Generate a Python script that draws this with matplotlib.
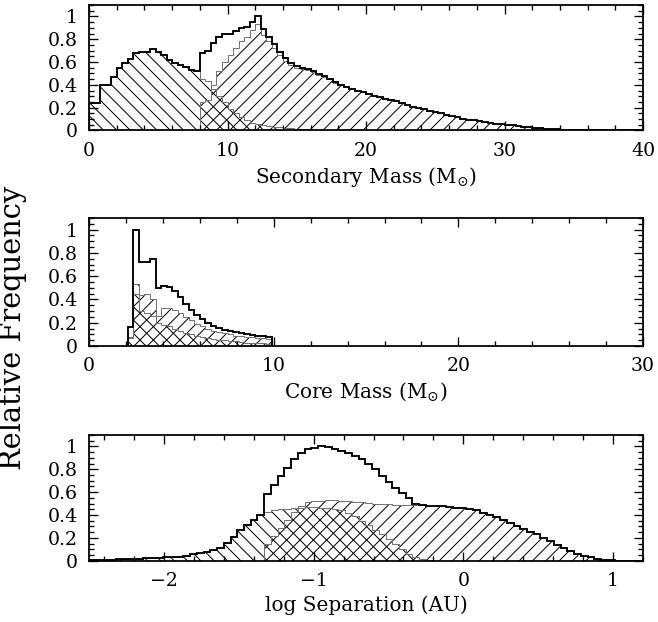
import matplotlib
matplotlib.use('Agg')
import matplotlib.pyplot as plt
import numpy as np
from matplotlib.ticker import MultipleLocator, FixedLocator, FixedFormatter

plt.rcParams['font.family'] = 'DejaVu Serif'
plt.rcParams['mathtext.fontset'] = 'dejavuserif'
plt.rcParams['hatch.linewidth'] = 0.9

# ---- panel 1: secondary mass, 0.4 Msun bins from 0 to 40
sec_edges = np.linspace(0, 40, 101)
sec_total = [0.24, 0.24, 0.40, 0.40, 0.47, 0.55, 0.59, 0.63, 0.68, 0.69,
             0.69, 0.715, 0.69, 0.665, 0.62, 0.59, 0.57, 0.56, 0.53, 0.52,
             0.68, 0.70, 0.77, 0.82, 0.85, 0.85, 0.87, 0.90, 0.91, 0.95,
             1.0, 0.89, 0.82, 0.755, 0.69, 0.635, 0.59, 0.565, 0.552, 0.54,
             0.518, 0.496, 0.475, 0.454, 0.423, 0.40, 0.38, 0.36, 0.345, 0.335,
             0.32, 0.30, 0.29, 0.28, 0.27, 0.255, 0.24, 0.225, 0.21, 0.20,
             0.185, 0.17, 0.16, 0.15, 0.135, 0.125, 0.115, 0.105, 0.095, 0.09,
             0.08, 0.075, 0.065, 0.06, 0.055, 0.05, 0.045, 0.04, 0.035, 0.03,
             0.025, 0.02, 0.017, 0.014, 0.01, 0.008, 0.005, 0.004, 0.002, 0.001,
             0, 0, 0, 0, 0, 0, 0, 0, 0, 0]
sec_low = [0.24, 0.24, 0.40, 0.40, 0.47, 0.55, 0.59, 0.63, 0.68, 0.69,
           0.69, 0.715, 0.69, 0.665, 0.62, 0.59, 0.57, 0.56, 0.53, 0.52,
           0.45, 0.43, 0.36, 0.30, 0.25, 0.19, 0.15, 0.12, 0.09, 0.07,
           0.06, 0.05, 0.04, 0.035, 0.03, 0.025, 0.02, 0.015, 0.012, 0.01,
           0.008, 0.006, 0.005, 0.004, 0.003] + [0] * 55
sec_high = [0] * 20 + [
            0.25, 0.27, 0.40, 0.52, 0.60, 0.66, 0.72, 0.78, 0.82, 0.88,
            0.93, 0.84, 0.78, 0.72, 0.66, 0.61, 0.57, 0.55, 0.54, 0.53,
            0.51, 0.49, 0.47, 0.45, 0.42, 0.40, 0.38, 0.36, 0.345, 0.335,
            0.32, 0.30, 0.29, 0.28, 0.27, 0.255, 0.24, 0.225, 0.21, 0.20,
            0.185, 0.17, 0.16, 0.15, 0.135, 0.125, 0.115, 0.105, 0.095, 0.09,
            0.08, 0.075, 0.065, 0.06, 0.055, 0.05, 0.045, 0.04, 0.035, 0.03,
            0.025, 0.02, 0.017, 0.014, 0.01, 0.008, 0.005, 0.004, 0.002, 0.001,
            0, 0, 0, 0, 0, 0, 0, 0, 0, 0]

# ---- panel 2: core mass, 0.3 Msun bins
core_edges = np.linspace(2.1, 9.9, 27)
core_total = [0.16, 1.0, 0.72, 0.72, 0.745, 0.50, 0.52, 0.51, 0.47, 0.42,
              0.36, 0.31, 0.27, 0.23, 0.20, 0.17, 0.155, 0.14, 0.13, 0.12,
              0.11, 0.10, 0.095, 0.09, 0.085, 0.08]
core_low = [0.08, 0.53, 0.30, 0.28, 0.26, 0.20, 0.18, 0.17, 0.15, 0.13,
            0.11, 0.10, 0.09, 0.08, 0.07, 0.06, 0.055, 0.05, 0.045, 0.04,
            0.035, 0.03, 0.03, 0.025, 0.025, 0.02]
core_high = [0.07, 0.45, 0.44, 0.445, 0.40, 0.26, 0.33, 0.33, 0.31, 0.28,
             0.25, 0.22, 0.19, 0.17, 0.15, 0.13, 0.12, 0.11, 0.10, 0.09,
             0.085, 0.08, 0.075, 0.07, 0.065, 0.06]

# ---- panel 3: log separation, 0.045 dex bins
sep_edges = np.linspace(-2.5, 1.19, 83)
sep_total = [0.005, 0.007, 0.008, 0.01, 0.012, 0.014, 0.016, 0.018, 0.02, 0.022,
             0.025, 0.028, 0.032, 0.036, 0.045, 0.055, 0.065, 0.08, 0.095, 0.11,
             0.155, 0.21, 0.265, 0.31, 0.36, 0.40, 0.58, 0.66, 0.74, 0.81,
             0.89, 0.945, 0.98, 0.99, 1.0, 0.995, 0.98, 0.96, 0.94, 0.92,
             0.89, 0.85, 0.80, 0.74, 0.69, 0.64, 0.59, 0.545, 0.50, 0.49,
             0.48, 0.48, 0.475, 0.47, 0.465, 0.46, 0.45, 0.44, 0.42, 0.40,
             0.38, 0.355, 0.33, 0.305, 0.28, 0.255, 0.23, 0.20, 0.17, 0.14,
             0.11, 0.085, 0.06, 0.045, 0.03, 0.018, 0.008, 0.003, 0, 0,
             0, 0]
sep_low = [0.005, 0.007, 0.008, 0.01, 0.012, 0.014, 0.016, 0.018, 0.02, 0.022,
           0.025, 0.028, 0.032, 0.036, 0.045, 0.055, 0.065, 0.08, 0.095, 0.11,
           0.155, 0.21, 0.265, 0.31, 0.36, 0.40, 0.43, 0.44, 0.45, 0.455,
           0.46, 0.465, 0.47, 0.47, 0.465, 0.46, 0.45, 0.44, 0.42, 0.39,
           0.35, 0.31, 0.27, 0.23, 0.19, 0.145, 0.10, 0.06, 0.03, 0.012,
           0.004] + [0] * 31
sep_high = [0] * 26 + [
            0.15, 0.22, 0.29, 0.36,
            0.43, 0.48, 0.51, 0.52, 0.52, 0.53, 0.53, 0.52, 0.52, 0.515,
            0.51, 0.505, 0.50, 0.50, 0.495, 0.49, 0.49, 0.49, 0.49, 0.485,
            0.48, 0.48, 0.475, 0.47, 0.465, 0.46, 0.45, 0.44, 0.42, 0.40,
            0.38, 0.355, 0.33, 0.305, 0.28, 0.255, 0.23, 0.20, 0.17, 0.14,
            0.11, 0.085, 0.06, 0.045, 0.03, 0.018, 0.008, 0.003, 0, 0,
            0, 0]

ytick_vals = [0, 0.2, 0.4, 0.6, 0.8, 1.0]
ytick_labels = ['0', '0.2', '0.4', '0.6', '0.8', '1']


def draw_panel(ax, edges, total, low, high, xlim, xmajor, xminor, xlabel):
    ax.stairs(low, edges, fill=True, hatch='\\\\', facecolor='none',
              edgecolor='black', linewidth=0)
    ax.stairs(high, edges, fill=True, hatch='//', facecolor='none',
              edgecolor='black', linewidth=0)
    ax.stairs(low, edges, color='0.45', linewidth=0.9)
    ax.stairs(high, edges, color='0.45', linewidth=0.9)
    ax.stairs(total, edges, color='black', linewidth=1.7)

    ax.set_xlim(*xlim)
    ax.set_ylim(0, 1.1)
    ax.xaxis.set_major_locator(MultipleLocator(xmajor))
    ax.xaxis.set_minor_locator(MultipleLocator(xminor))
    ax.yaxis.set_major_locator(FixedLocator(ytick_vals))
    ax.yaxis.set_major_formatter(FixedFormatter(ytick_labels))
    ax.yaxis.set_minor_locator(MultipleLocator(0.05))
    ax.tick_params(which='both', direction='in', top=True, right=True,
                   width=1.2, labelsize=17)
    ax.tick_params(which='major', length=8)
    ax.tick_params(which='minor', length=4.5)
    ax.tick_params(axis='x', pad=10)
    ax.tick_params(axis='y', pad=10)
    for s in ax.spines.values():
        s.set_linewidth(1.6)
    ax.set_xlabel(xlabel, fontsize=18, labelpad=5)


fig = plt.figure(figsize=(658 / 80, 622 / 80), dpi=80)

ax1 = fig.add_axes([0.1353, 0.7902, 0.842, 0.2018])
draw_panel(ax1, sec_edges, sec_total, sec_low, sec_high, (0, 40), 10, 2,
           r'Secondary Mass (M$_{\odot}$)')

ax2 = fig.add_axes([0.1353, 0.4437, 0.842, 0.2058])
draw_panel(ax2, core_edges, core_total, core_low, core_high, (0, 30), 10, 2,
           r'Core Mass (M$_{\odot}$)')

ax3 = fig.add_axes([0.1353, 0.0986, 0.842, 0.2021])
draw_panel(ax3, sep_edges, sep_total, sep_low, sep_high, (-2.5, 1.2), 1, 0.2,
           'log Separation (AU)')

fig.text(0.02, 0.4735, 'Relative Frequency', rotation=90, va='center',
         ha='center', fontsize=26)

fig.savefig('out.png', dpi=80)
